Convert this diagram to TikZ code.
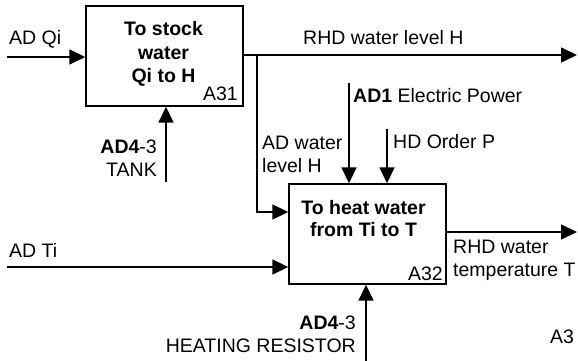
\documentclass[tikz,border=0pt]{standalone}
\usepackage{fontspec}
\setmainfont{Liberation Sans}
\usetikzlibrary{arrows.meta}
\begin{document}
\begin{tikzpicture}[x=1pt,y=-1pt,
  every node/.style={font=\fontsize{19.5}{23}\selectfont},
  box/.style={draw,line width=1.4pt,minimum width=157pt,minimum height=100pt,inner sep=0pt},
  lbl/.style={inner sep=0pt,align=left},
  flow/.style={line width=1.6pt,-{Triangle[length=16pt,width=15pt]}},
  plain/.style={line width=1.6pt}]
\useasboundingbox (0,0) rectangle (578,361);
% boxes
\node[box] (A31) at (164.5,56) {};
\node[box] (A32) at (367.5,234) {};
% box texts
\node[lbl,align=center,anchor=base,font=\fontsize{19.5}{23.5}\selectfont\bfseries] (t31) at (163.5,82.7) {To stock\\water\\Qi to H};
\node[lbl,anchor=base east] (n31) at (238,100) {A31};
\node[lbl,align=center,anchor=base,font=\fontsize{19.5}{22}\selectfont\bfseries] (t32) at (363.5,236.7) {To heat water\\from Ti to T};
\node[lbl,anchor=base east] (n32) at (443,280) {A32};
% coordinates
\coordinate (qi) at (7,57);
\coordinate (tank) at (166,182);
\coordinate (rhdH) at (577,55);
\coordinate (br) at (257,55);
\coordinate (ad1) at (349,83);
\coordinate (hd) at (387,129);
\coordinate (ti) at (7,267);
\coordinate (rT) at (577,232);
\coordinate (res) at (366,361);
% connectors
\draw[flow] (qi) -- (qi -| A31.west);
\draw[flow] (tank) -- (tank |- A31.south);
\draw[flow] (rhdH -| A31.east) -- (rhdH);
\draw[flow] (br) |- ([yshift=22pt]A32.west);
\draw[flow] (ad1) -- (ad1 |- A32.north);
\draw[flow] (hd) -- (hd |- A32.north);
\draw[flow] (ti) -- (ti -| A32.west);
\draw[flow] (rT -| A32.east) -- (rT);
\draw[flow] (res) -- (res |- A32.south);
% labels
\node[lbl,anchor=base west] (lqi) at (9,45) {AD Qi};
\node[lbl,anchor=base east,align=right] (ltank) at (157,176) {\textbf{AD4}-3\\TANK};
\node[lbl,anchor=base west] (lrhdH) at (303,45) {RHD water level H};
\node[lbl,anchor=base west] (lad1) at (353,102) {\textbf{AD1} Electric Power};
\node[lbl,anchor=base west] (lhd) at (393,148) {HD Order P};
\node[lbl,anchor=base west] (lbr) at (262,172) {AD water\\level H};
\node[lbl,anchor=base west] (lti) at (9,257) {AD Ti};
\node[lbl,anchor=base west] (lrT) at (453,276) {RHD water\\temperature T};
\node[lbl,anchor=base east,align=right] (lres) at (356,352) {\textbf{AD4}-3\\HEATING RESISTOR};
\node[lbl,anchor=base west] (la3) at (550,343) {A3};
\end{tikzpicture}
\end{document}
